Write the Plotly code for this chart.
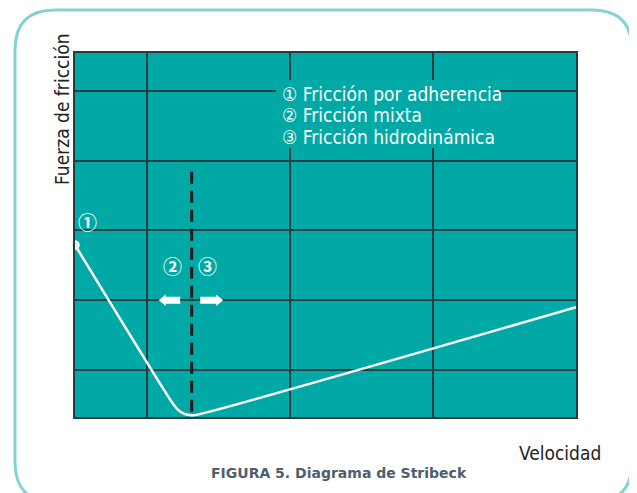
import plotly.graph_objects as go

# ---- data ----
velocity = [0.0, 1.36, 1.44, 1.52, 1.60, 1.68, 7.0]
friction = [1.79, -0.47, -0.57, -0.625, -0.645, -0.645, 0.90]
start_point = (0.0, 1.79)
transition_x = 1.63
legend_lines = ["① Fricción por adherencia", "② Fricción mixta", "③ Fricción hidrodinámica"]
legend_y = [3.96, 3.65, 3.33]
regime_labels = ["①", "②", "③"]
regime_label_x = [0.17, 1.36, 1.85]
regime_label_y = [2.13, 1.50, 1.50]
arrow_tip_x = [1.17, 2.07]
arrow_tail_x = [1.47, 1.75]
arrow_y = 1.0
x_grid = [1, 3, 5]
y_grid = [0, 1, 2, 3, 4]

TEAL = "#00A9A5"
GRID = "#23403f"
OFF = 8  # default page body margin
W, H = 637 - OFF, 493 - OFF
L, R, T, B = 75, 576, 53, 417   # plot area in screen pixels
XR = [0, 7]
YR = [-0.673, 4.54]
UX = (R - L) / (XR[1] - XR[0])   # pixels per x unit
UY = (B - T) / (YR[1] - YR[0])   # pixels per y unit

def px(x):
    return (x - L) / (R - L)

def py(y):
    return (B - y) / (B - T)

TXT = "DejaVu Sans Condensed, Liberation Sans Narrow, sans-serif"

fig = go.Figure()

# dashed transition line
fig.add_trace(go.Scatter(x=[transition_x, transition_x], y=[2.84, YR[0]], mode="lines",
                         line=dict(color="#1a1a1a", width=3, dash="12px,7px"),
                         hoverinfo="skip", showlegend=False))
# Stribeck curve
fig.add_trace(go.Scatter(x=velocity, y=friction, mode="lines",
                         line=dict(color="white", width=2.5, shape="spline", smoothing=0.6),
                         hoverinfo="skip", showlegend=False))
fig.add_trace(go.Scatter(x=[start_point[0]], y=[start_point[1]], mode="markers",
                         marker=dict(size=8, color="#d8f2f1", line=dict(color="white", width=1.5)),
                         cliponaxis=False, hoverinfo="skip", showlegend=False))

annotations = []
shapes = []
# legend background covering grid lines
shapes.append(dict(type="rect", xref="paper", yref="paper", x0=px(276), x1=px(500),
                   y0=py(148), y1=py(80), fillcolor=TEAL, line=dict(width=0), layer="above"))
for t, y in zip(legend_lines, legend_y):
    annotations.append(dict(x=2.86, y=y, xref="x", yref="y", xanchor="left", yanchor="middle",
                            text=t, showarrow=False, align="left",
                            font=dict(family=TXT, size=19, color="white")))
# circled labels
for t, x, y in zip(regime_labels, regime_label_x, regime_label_y):
    annotations.append(dict(x=x, y=y, xref="x", yref="y", text="<b>" + t + "</b>", showarrow=False,
                            font=dict(family="Noto Sans CJK JP, DejaVu Sans, sans-serif", size=19,
                                      color="white")))

# block arrows (geometry in pixels converted to data units)
def block_arrow(tip, tail, y):
    d = 1 if tip > tail else -1
    head = 7 / UX * d
    bh, hh = 3.5 / UY, 5.8 / UY
    base = tip - head
    return (f"M {tail},{y-bh} L {base},{y-bh} L {base},{y-hh} L {tip},{y} "
            f"L {base},{y+hh} L {base},{y+bh} L {tail},{y+bh} Z")

for tip, tail in zip(arrow_tip_x, arrow_tail_x):
    shapes.append(dict(type="path", xref="x", yref="y", path=block_arrow(tip, tail, arrow_y),
                       fillcolor="white", line=dict(width=0), layer="above"))

# axis titles and caption
annotations.append(dict(x=px(62), y=py(110), xref="paper", yref="paper", text="Fuerza de fricción",
                        textangle=-90, xanchor="center", yanchor="middle", showarrow=False,
                        font=dict(family=TXT, size=19, color="#222")))
annotations.append(dict(x=px(603), y=py(453), xref="paper", yref="paper", text="Velocidad",
                        xanchor="right", yanchor="middle", showarrow=False,
                        font=dict(family=TXT, size=19, color="#222")))
annotations.append(dict(x=px(339), y=py(473), xref="paper", yref="paper",
                        text="<b>FIGURA 5. Diagrama de Stribeck</b>", showarrow=False,
                        xanchor="center", yanchor="middle",
                        font=dict(family="DejaVu Sans, sans-serif", size=14, color="#4f5e6e")))

# rounded frame
x0, x1, y0, y1 = px(15), px(632), py(10), py(502)
rx, ry = 40 / (R - L), 40 / (B - T)
path = (f"M {x0+rx},{y0} L {x1-rx},{y0} Q {x1},{y0} {x1},{y0-ry} "
        f"L {x1},{y1+ry} Q {x1},{y1} {x1-rx},{y1} L {x0+rx},{y1} Q {x0},{y1} {x0},{y1+ry} "
        f"L {x0},{y0-ry} Q {x0},{y0} {x0+rx},{y0} Z")
shapes.append(dict(type="path", path=path, xref="paper", yref="paper",
                   line=dict(color="#84d3d2", width=3), layer="below"))

axis_common = dict(showline=True, mirror=True, linecolor="#2b3b3b", linewidth=2,
                   showgrid=True, gridcolor=GRID, gridwidth=1.5, zeroline=False,
                   showticklabels=False, ticks="", fixedrange=True)
fig.update_layout(
    width=W, height=H,
    margin=dict(l=L - OFF, r=W - (R - OFF), t=T - OFF, b=H - (B - OFF)),
    paper_bgcolor="white", plot_bgcolor=TEAL,
    xaxis=dict(range=XR, tickvals=x_grid, **axis_common),
    yaxis=dict(range=YR, tickvals=y_grid, **axis_common),
    annotations=annotations, shapes=shapes, showlegend=False,
)

fig.write_html("out.html")
